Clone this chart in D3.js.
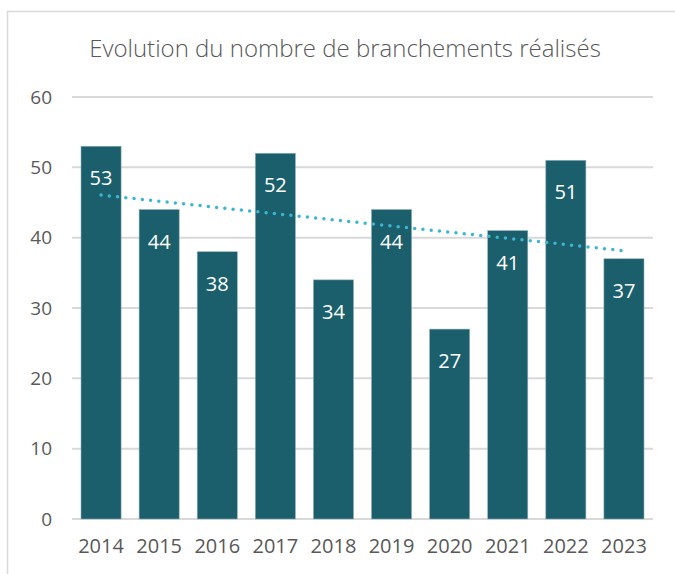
<!DOCTYPE html>
<html>
<head>
<meta charset="utf-8">
<script src="https://cdn.jsdelivr.net/npm/d3@7"></script>
<style>
  body { margin: 0; background: #fff; }
  text { font-family: "Open Sans", "Noto Sans", sans-serif; fill: #595959; }
</style>
</head>
<body>
<svg id="chart"></svg>
<script>
const years = ['2014', '2015', '2016', '2017', '2018', '2019', '2020', '2021', '2022', '2023'];
const branchements = [53, 44, 38, 52, 34, 44, 27, 41, 51, 37];
const yTicks = [0, 10, 20, 30, 40, 50, 60];

const global_width = 675,
  global_height = 574;

const margin = {top: 97, right: 22, bottom: 55, left: 72};
const width = global_width - margin.left - margin.right,
  height = global_height - margin.top - margin.bottom;

const svg = d3.select('#chart')
  .attr('width', global_width)
  .attr('height', global_height);

// chart frame (only top and left edges visible in the crop)
svg.append('path')
  .attr('d', 'M7.5,' + global_height + ' V11.5 H' + global_width)
  .attr('fill', 'none')
  .attr('stroke', '#d9d9d9')
  .attr('stroke-width', 1.5);

svg.append('text')
  .attr('x', 345)
  .attr('y', 57)
  .attr('text-anchor', 'middle')
  .style('font-size', '24px')
  .style('font-weight', 300)
  .text('Evolution du nombre de branchements réalisés');

const plot = svg.append('g')
  .attr('transform', 'translate(' + margin.left + ',' + margin.top + ')');

const x = d3.scaleBand().domain(years).range([0, width]).paddingInner(0.31).paddingOuter(0.155);
const y = d3.scaleLinear().domain([0, 60]).range([height, 0]);

// gridlines
plot.append('g')
  .selectAll('line')
  .data(yTicks)
  .join('line')
  .attr('x1', 0)
  .attr('x2', width)
  .attr('y1', d => y(d))
  .attr('y2', d => y(d))
  .attr('stroke', '#d9d9d9')
  .attr('stroke-width', 2);

// y labels
const yAxis = plot.append('g')
  .call(d3.axisLeft(y).tickValues(yTicks).tickSize(0).tickPadding(20));
yAxis.select('.domain').remove();
yAxis.selectAll('text')
  .style('font-size', '19px')
  .style('font-family', '"Open Sans", sans-serif')
  .attr('fill', '#595959');

// x labels
const xAxis = plot.append('g')
  .attr('transform', 'translate(0,' + height + ')')
  .call(d3.axisBottom(x).tickSize(0).tickPadding(20));
xAxis.select('.domain').remove();
xAxis.selectAll('text')
  .style('font-size', '20px')
  .style('font-family', '"Open Sans", sans-serif')
  .attr('fill', '#595959');

// bars
plot.append('g')
  .selectAll('rect')
  .data(branchements)
  .join('rect')
  .attr('x', (d, i) => x(years[i]))
  .attr('y', d => y(d))
  .attr('width', x.bandwidth())
  .attr('height', d => height - y(d))
  .attr('fill', '#1b5f6c')
  .attr('stroke', '#8fb0b6')
  .attr('stroke-width', 0.6);

// value labels
plot.append('g')
  .selectAll('text')
  .data(branchements)
  .join('text')
  .attr('x', (d, i) => x(years[i]) + x.bandwidth() / 2)
  .attr('y', d => y(d) + 39)
  .attr('text-anchor', 'middle')
  .style('font-size', '20px')
  .style('fill', '#ffffff')
  .text(d => d);

// linear trend line
const n = branchements.length;
const mx = d3.mean(d3.range(n)), my = d3.mean(branchements);
const slope = d3.sum(branchements, (v, i) => (i - mx) * (v - my)) / d3.sum(d3.range(n), i => (i - mx) * (i - mx));
const icpt = my - slope * mx;
plot.append('line')
  .attr('x1', x(years[0]) + x.bandwidth() / 2)
  .attr('x2', x(years[n - 1]) + x.bandwidth() / 2)
  .attr('y1', y(icpt))
  .attr('y2', y(icpt + slope * (n - 1)))
  .attr('stroke', '#3bb5d1')
  .attr('stroke-width', 3.5)
  .attr('stroke-linecap', 'round')
  .attr('stroke-dasharray', '0 8.3');
</script>
</body>
</html>
